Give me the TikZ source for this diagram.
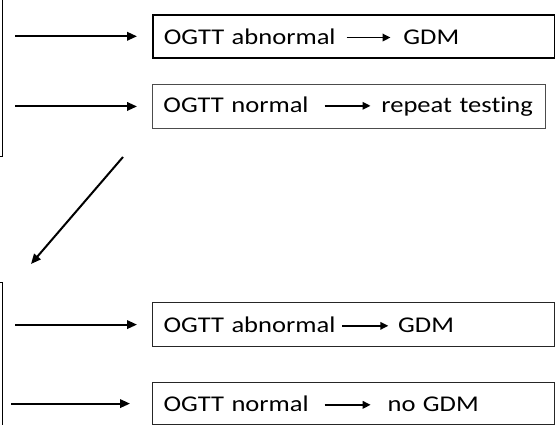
\documentclass[tikz,border=0pt]{standalone}
\usepackage{fontspec}
\setmainfont{Carlito}[FakeStretch=1.18,Ligatures={NoCommon}]
\usetikzlibrary{arrows.meta}
\newcommand{\tarr}[1]{\tikz[baseline=-6.5pt]\draw[line width=1.8pt,-{Triangle[length=8pt,width=7.5pt]}] (0pt,0pt) -- (#1,0pt);}
\begin{document}
\begin{tikzpicture}[x=1pt,y=-1pt,
  outbox/.style={draw, line width=1.4pt, minimum width=103pt},
  resbox/.style={draw, anchor=north west, inner xsep=11pt, inner ysep=0pt, align=left,
    font=\fontsize{22.5}{27}\selectfont},
  arr/.style={line width=2pt, -{Triangle[length=10pt,width=8.5pt]}}]
\useasboundingbox (0,0) rectangle (555,425);
\clip (0,0) rectangle (555,425);
% cropped source boxes on the left
\node[outbox, minimum height=180pt, anchor=south east] (l1) at (3,157) {};
\node[outbox, minimum height=180pt, anchor=north east] (l2) at (3,282) {};
% result boxes
\node[resbox, line width=1.6pt, text width=380pt, minimum height=43pt] (b1) at (152,14)
  {OGTT abnormal\hspace{10pt}\tarr{44pt}\hspace{12pt}GDM};
\node[resbox, line width=0.9pt, draw=black!70, text width=371pt, minimum height=44pt] (b2) at (152,84)
  {OGTT normal\hspace{15pt}\tarr{46pt}\hspace{10pt}repeat testing};
\node[resbox, line width=1.2pt, draw=black!85, text width=380pt, minimum height=44pt] (b3) at (152,302)
  {OGTT abnormal\hspace{6pt}\tarr{46pt}\hspace{9pt}GDM};
\node[resbox, line width=1.2pt, draw=black!85, text width=380pt, minimum height=42pt] (b4) at (152,382)
  {OGTT normal\hspace{15pt}\tarr{46pt}\hspace{16pt}no GDM};
% connectors
\draw[arr] ([xshift=12pt]l1.east |- b1.west) -- ([xshift=-15pt]b1.west);
\draw[arr] ([xshift=12pt]l1.east |- b2.west) -- ([xshift=-15pt]b2.west);
\draw[arr] ([xshift=12pt]l2.east |- b3.west) -- ([xshift=-15pt]b3.west);
\draw[arr] ([xshift=8pt]l2.east |- b4.west) -- ([xshift=-22pt]b4.west);
\coordinate (d1) at (123,157);
\coordinate (d2) at (31,264);
\draw[arr] (d1) -- (d2);
\end{tikzpicture}
\end{document}
